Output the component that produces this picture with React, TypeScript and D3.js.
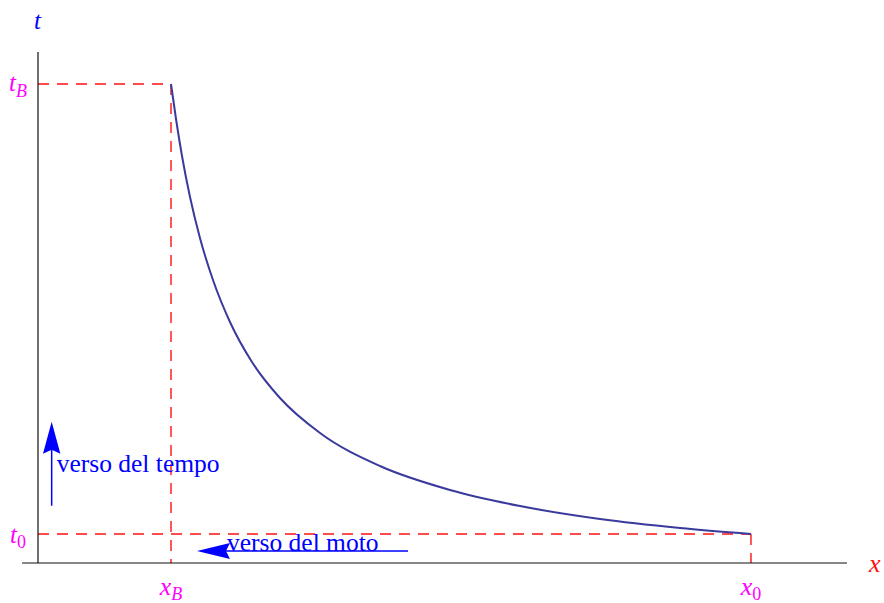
import React from "react";
import * as d3 from "d3";

// Curve t(x) (arbitrary units)
const curveX = [1.644, 1.706, 1.78, 1.879, 2.002, 2.163, 2.373, 2.645, 2.991, 3.486, 4.227, 5.093, 5.958, 6.947, 7.936, 8.813];
const curveT = [9.374, 8.689, 7.965, 7.162, 6.36, 5.538, 4.716, 3.933, 3.229, 2.544, 1.898, 1.429, 1.115, 0.861, 0.685, 0.568];

// Special points
const xB = 1.644;
const x0 = 8.813;
const tB = 9.374;
const t0 = 0.568;

// Axes extents
const xAxisExtent = [-0.198, 10];
const tAxisExtent = [0, 10];

// Annotations
const timeArrow = { x: 0.169, from: 1.121, to: 2.765, label: "verso del tempo", lx: 0.231, lt: 1.787 };
const motionArrow = { t: 0.235, from: 4.574, to: 1.965, label: "verso del moto", lx: 2.336 };

const W = 884;
const H = 603;

export default function App() {
  const xs = d3.scaleLinear().domain([0, 10]).range([38, 847]);
  const ts = d3.scaleLinear().domain([0, 10]).range([563, 52]);

  const pts: [number, number][] = curveX.map((x, i) => [x, curveT[i]]);
  const line = d3
    .line<[number, number]>()
    .x((d) => xs(d[0]))
    .y((d) => ts(d[1]))
    .curve(d3.curveMonotoneX);

  const red = "#ff1010";
  const mag = "#ff00ff";
  const blue = "#0000ff";
  const serif = "'Liberation Serif', 'Times New Roman', serif";
  const dash = "11,8";

  // arrow heads
  const vx = xs(timeArrow.x);
  const vTip = ts(timeArrow.to);
  const vHead = `M${vx},${vTip} L${vx - 8.7},${vTip + 32} L${vx},${vTip + 28} L${vx + 8.7},${vTip + 32} Z`;
  const hy = ts(motionArrow.t);
  const hTip = xs(motionArrow.to);
  const hHead = `M${hTip},${hy} L${hTip + 33},${hy - 8} L${hTip + 29},${hy} L${hTip + 33},${hy + 8} Z`;

  return (
    <svg
      width={W}
      height={H}
      style={{ position: "fixed", left: 0, top: 0, background: "#fff" }}
      fontFamily={serif}
    >
      <rect x={0} y={0} width={W} height={H} fill="#fff" />
      {/* dashed guides */}
      <g stroke={red} strokeWidth={1.4} strokeDasharray={dash} fill="none">
        <line x1={xs(0)} y1={ts(tB)} x2={xs(xB)} y2={ts(tB)} />
        <line x1={xs(xB)} y1={ts(tB)} x2={xs(xB)} y2={ts(0)} />
        <line x1={xs(0)} y1={ts(t0)} x2={xs(x0)} y2={ts(t0)} />
        <line x1={xs(x0)} y1={ts(t0)} x2={xs(x0)} y2={ts(0)} />
      </g>
      {/* axes */}
      <g stroke="#111" strokeWidth={1.2}>
        <line x1={xs(xAxisExtent[0])} x2={xs(xAxisExtent[1])} y1={ts(0)} y2={ts(0)} />
        <line x1={xs(0)} x2={xs(0)} y1={ts(tAxisExtent[0])} y2={ts(tAxisExtent[1])} />
      </g>
      {/* curve */}
      <path d={line(pts) ?? ""} fill="none" stroke="#3a3a9c" strokeWidth={2} />

      {/* arrows */}
      <line x1={vx} x2={vx} y1={ts(timeArrow.from)} y2={vTip + 20} stroke={blue} strokeWidth={1.5} />
      <path d={vHead} fill={blue} />
      <text x={xs(timeArrow.lx)} y={ts(timeArrow.lt)} fill={blue} fontSize={25.5}>
        {timeArrow.label}
      </text>
      <line x1={xs(motionArrow.from)} x2={hTip + 20} y1={hy} y2={hy} stroke={blue} strokeWidth={1.5} />
      <path d={hHead} fill={blue} />
      <text x={xs(motionArrow.lx)} y={hy} fill={blue} fontSize={25.5}>
        {motionArrow.label}
      </text>

      {/* axis labels */}
      <text x={34} y={29} fill={blue} fontSize={25} fontStyle="italic">t</text>
      <text x={869} y={572} fill={red} fontSize={26} fontStyle="italic">x</text>

      {/* point labels */}
      <text x={9} y={ts(tB) + 7} fill={mag} fontSize={25} fontStyle="italic">
        t<tspan fontSize={18} dy={6}>B</tspan>
      </text>
      <text x={10} y={ts(t0) + 9} fill={mag} fontSize={25} fontStyle="italic">
        t<tspan fontSize={18} fontStyle="normal" dy={5}>0</tspan>
      </text>
      <text x={xs(xB)} y={595} fill={mag} fontSize={26} fontStyle="italic" textAnchor="middle">
        x<tspan fontSize={18} dy={5}>B</tspan>
      </text>
      <text x={xs(x0)} y={595} fill={mag} fontSize={26} fontStyle="italic" textAnchor="middle">
        x<tspan fontSize={18} fontStyle="normal" dy={5}>0</tspan>
      </text>
    </svg>
  );
}
